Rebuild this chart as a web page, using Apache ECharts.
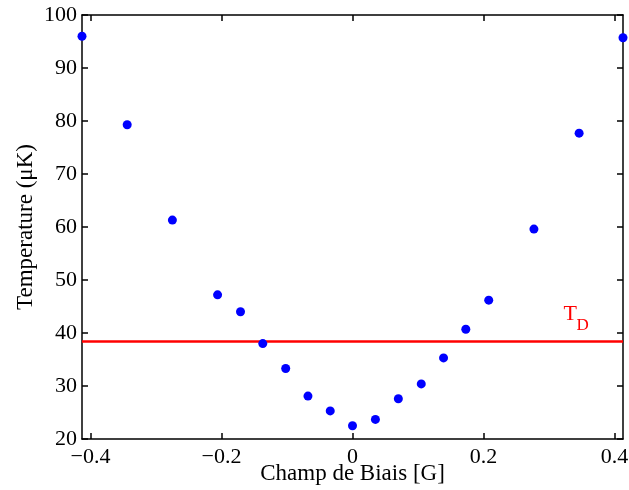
<!DOCTYPE html>
<html>
<head>
<meta charset="utf-8">
<script src="https://cdn.jsdelivr.net/npm/echarts@6/dist/echarts.min.js"></script>
<style>
html,body{margin:0;padding:0;background:#fff;}
#chart{width:629px;height:490px;}
</style>
</head>
<body>
<div id="chart"></div>
<script>
// Data
const biasField = [-0.413, -0.344, -0.275, -0.206, -0.171, -0.137, -0.102, -0.068, -0.034, 0.0, 0.035, 0.070, 0.105, 0.139, 0.173, 0.208, 0.277, 0.346, 0.413];
const temperature = [96.0, 79.3, 61.3, 47.2, 44.0, 38.0, 33.3, 28.1, 25.3, 22.5, 23.7, 27.6, 30.4, 35.3, 40.7, 46.2, 59.6, 77.7, 95.7];
const tDoppler = 38.4;
const xRange = [-0.413, 0.413];
const yRange = [20, 100];
const xTickValues = [-0.4, -0.2, 0, 0.2, 0.4];
const yTickStep = 10;
const xAxisTitle = 'Champ de Biais [G]';
const yAxisTitle = 'Temperature (μK)';
const tdLabelMain = 'T';
const tdLabelSub = 'D';

const FONT = '"Liberation Serif", "Times New Roman", serif';
const chart = echarts.init(document.getElementById('chart'), null, {renderer: 'canvas'});

function fmtX(v) {
  if (Math.abs(v) < 1e-9) return '0';
  const s = (Math.round(v * 10) / 10).toFixed(1);
  return s.replace('-', '\u2212');
}

const axisLineStyle = {color: '#000', width: 1.5};
const scatterData = biasField.map((x, i) => [x, temperature[i]]);

chart.setOption({
  animation: false,
  backgroundColor: '#fff',
  grid: {left: 82, right: 6, top: 15, bottom: 51, containLabel: false, outerBoundsMode: 'none'},
  xAxis: [
    {
      type: 'value', min: xRange[0], max: xRange[1], position: 'bottom',
      name: xAxisTitle, nameLocation: 'middle', nameGap: 23, nameMoveOverlap: false,
      nameTextStyle: {fontFamily: FONT, fontSize: 23, color: '#000'},
      axisLine: {show: true, onZero: false, lineStyle: axisLineStyle},
      axisTick: {show: true, inside: true, length: 6, lineStyle: axisLineStyle, customValues: xTickValues},
      axisLabel: {show: true, margin: 7, fontFamily: FONT, fontSize: 22, color: '#000', customValues: xTickValues, formatter: fmtX},
      splitLine: {show: false}
    },
    {
      type: 'value', min: xRange[0], max: xRange[1], position: 'top',
      axisLine: {show: true, onZero: false, lineStyle: axisLineStyle},
      axisTick: {show: true, inside: true, length: 6, lineStyle: axisLineStyle, customValues: xTickValues},
      axisLabel: {show: false},
      splitLine: {show: false}
    }
  ],
  yAxis: [
    {
      type: 'value', min: yRange[0], max: yRange[1], interval: yTickStep, position: 'left',
      name: yAxisTitle, nameLocation: 'middle', nameGap: 45, nameMoveOverlap: false,
      nameTextStyle: {fontFamily: FONT, fontSize: 23, color: '#000'},
      axisLine: {show: true, onZero: false, lineStyle: axisLineStyle},
      axisTick: {show: true, inside: true, length: 6, lineStyle: axisLineStyle},
      axisLabel: {show: true, margin: 5, fontFamily: FONT, fontSize: 22, color: '#000'},
      splitLine: {show: false}
    },
    {
      type: 'value', min: yRange[0], max: yRange[1], interval: yTickStep, position: 'right',
      axisLine: {show: true, onZero: false, lineStyle: axisLineStyle},
      axisTick: {show: true, inside: true, length: 6, lineStyle: axisLineStyle},
      axisLabel: {show: false},
      splitLine: {show: false}
    }
  ],
  series: [
    {
      type: 'line',
      data: [[xRange[0], tDoppler], [xRange[1], tDoppler]],
      showSymbol: false, symbol: 'none',
      lineStyle: {color: '#ff0000', width: 2.5, opacity: 1},
      z: 2,
      silent: true
    },
    {
      type: 'scatter',
      data: scatterData,
      symbol: 'circle',
      symbolSize: 9,
      itemStyle: {color: '#0000ff', opacity: 1},
      z: 3
    }
  ]
});

// T_D label placed relative to the threshold line via the chart's own scale
const p = chart.convertToPixel({xAxisIndex: 0, yAxisIndex: 0}, [0.322, tDoppler]);
chart.setOption({
  graphic: [
    {type: 'text', x: p[0], y: p[1] - 38, style: {text: tdLabelMain, fontFamily: FONT, fontSize: 22, fill: '#ff0000'}},
    {type: 'text', x: p[0] + 13, y: p[1] - 24, style: {text: tdLabelSub, fontFamily: FONT, fontSize: 17, fill: '#ff0000'}}
  ]
});
</script>
</body>
</html>
